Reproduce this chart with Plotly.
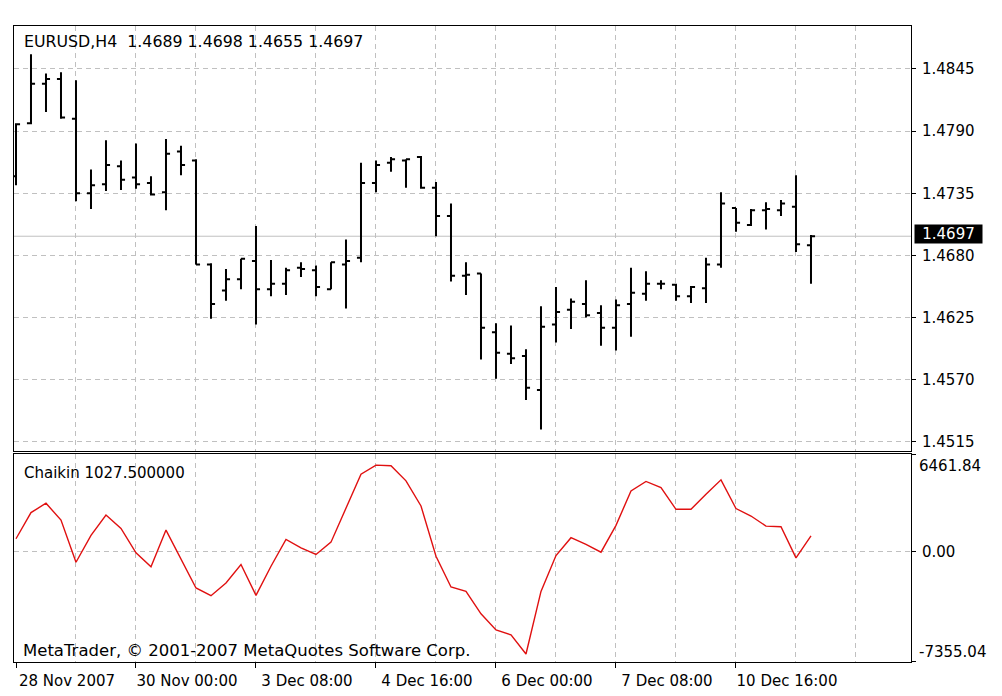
import plotly.graph_objects as go

# ---------------- data ----------------
bar_index = list(range(54))
open_ = [1.4750, 1.4797, 1.4832, 1.4836, 1.4801, 1.4735, 1.4743, 1.4759, 1.4749, 1.4744,
         1.4736, 1.4772, 1.4764, 1.4672, 1.4649, 1.4659, 1.4675, 1.4650, 1.4655, 1.4669,
         1.4667, 1.4650, 1.4672, 1.4678, 1.4744, 1.4762, 1.4764, 1.4767, 1.4740, 1.4715,
         1.4662, 1.4664, 1.4612, 1.4593, 1.4591, 1.4561, 1.4619, 1.4632, 1.4637, 1.4629,
         1.4616, 1.4637, 1.4646, 1.4655, 1.4654, 1.4644, 1.4651, 1.4672, 1.4722, 1.4707,
         1.4720, 1.4720, 1.4723, 1.4689]
high = [1.4797, 1.4858, 1.4841, 1.4842, 1.4835, 1.4756, 1.4782, 1.4764, 1.4779, 1.4750,
        1.4783, 1.4777, 1.4765, 1.4673, 1.4668, 1.4677, 1.4706, 1.4676, 1.4669, 1.4674,
        1.4671, 1.4674, 1.4694, 1.4762, 1.4764, 1.4767, 1.4765, 1.4768, 1.4745, 1.4726,
        1.4674, 1.4664, 1.4620, 1.4618, 1.4597, 1.4635, 1.4652, 1.4642, 1.4658, 1.4636,
        1.4641, 1.4669, 1.4666, 1.4658, 1.4655, 1.4653, 1.4678, 1.4736, 1.4722, 1.4721,
        1.4727, 1.4729, 1.4751, 1.4698]
low = [1.4742, 1.4796, 1.4807, 1.4801, 1.4728, 1.4721, 1.4737, 1.4738, 1.4739, 1.4733,
       1.4720, 1.4751, 1.4672, 1.4624, 1.4640, 1.4650, 1.4619, 1.4644, 1.4645, 1.4661,
       1.4644, 1.4650, 1.4633, 1.4674, 1.4736, 1.4754, 1.4740, 1.4739, 1.4697, 1.4657,
       1.4645, 1.4588, 1.4571, 1.4584, 1.4552, 1.4526, 1.4603, 1.4615, 1.4625, 1.4600,
       1.4596, 1.4608, 1.4640, 1.4650, 1.4640, 1.4638, 1.4638, 1.4669, 1.4701, 1.4706,
       1.4703, 1.4715, 1.4683, 1.4655]
close = [1.4796, 1.4832, 1.4836, 1.4802, 1.4735, 1.4742, 1.4760, 1.4747, 1.4743, 1.4734,
         1.4770, 1.4760, 1.4672, 1.4637, 1.4659, 1.4677, 1.4650, 1.4655, 1.4667, 1.4668,
         1.4652, 1.4674, 1.4675, 1.4744, 1.4760, 1.4765, 1.4765, 1.4740, 1.4715, 1.4662,
         1.4663, 1.4616, 1.4594, 1.4589, 1.4563, 1.4617, 1.4630, 1.4639, 1.4627, 1.4616,
         1.4636, 1.4647, 1.4655, 1.4655, 1.4644, 1.4652, 1.4672, 1.4726, 1.4709, 1.4720,
         1.4721, 1.4726, 1.4690, 1.4697]
chaikin = [834, 2570, 3191, 2076, -728, 1055, 2410, 1522, -100, -1035,
           1408, -547, -2436, -2950, -2103, -881, -2930, -995, 788, 234,
           -214, 607, 2904, 5126, 5727, 5680, 4679, 3010, -327, -2370,
           -2663, -4152, -5220, -5554, -6822, -2663, -280, 901, 454, -60,
           1722, 4012, 4639, 4239, 2790, 2790, 3791, 4746, 2837, 2343,
           1675, 1635, -434, 1027.5]

price_ticks = [1.4515, 1.4570, 1.4625, 1.4680, 1.4735, 1.4790, 1.4845]
date_label_bars = [0, 8, 16, 24, 32, 40, 48]
date_labels = ["28 Nov 2007", "30 Nov 00:00", "3 Dec 08:00", "4 Dec 16:00",
               "6 Dec 00:00", "7 Dec 08:00", "10 Dec 16:00"]
grid_bars = [4, 8, 12, 16, 20, 24, 28, 32, 36, 40, 44, 48, 52, 56]
chaikin_min, chaikin_max = -7355.04, 6461.84

symbol = "EURUSD,H4"
indicator_name = "Chaikin"
copyright_text = "MetaTrader, \u00a9 2001-2007 MetaQuotes Software Corp."

# ---------------- styling ----------------
FONT = "DejaVu Sans"
FS = 15
GRID = "#c0c0c0"
DASH = "5px,4px"
X_RANGE = [-0.133, 59.667]

fig = go.Figure()

fig.add_trace(go.Ohlc(
    x=bar_index, open=open_, high=high, low=low, close=close,
    increasing=dict(line=dict(color="black", width=2)),
    decreasing=dict(line=dict(color="black", width=2)),
    tickwidth=0.27, xaxis="x", yaxis="y", hoverinfo="skip", showlegend=False,
))

fig.add_trace(go.Scatter(
    x=bar_index, y=chaikin, mode="lines",
    line=dict(color="#e01010", width=1.4),
    xaxis="x2", yaxis="y2", hoverinfo="skip", showlegend=False,
))

axis_common = dict(showline=True, mirror=True, linecolor="black", linewidth=1,
                   zeroline=False, automargin=False,
                   tickfont=dict(family=FONT, size=FS, color="black"))

main_bottom = 0.3318
lower_top = 0.3270

# page body has an 8px margin, so the figure is sized to fit the window
fig.update_layout(
    width=994, height=688,
    margin=dict(l=6, r=91, t=18, b=34),
    paper_bgcolor="white", plot_bgcolor="white",
    font=dict(family=FONT, size=FS, color="black"),
    showlegend=False,
    xaxis=dict(domain=[0, 1], anchor="y", range=X_RANGE, tickvals=grid_bars,
               showticklabels=False, ticks="", showgrid=True, gridcolor=GRID,
               griddash=DASH, gridwidth=1, rangeslider=dict(visible=False),
               **axis_common),
    yaxis=dict(domain=[main_bottom, 1], anchor="x", side="right",
               range=[1.45070, 1.48830], tickvals=price_ticks, tickformat=".4f",
               ticks="outside", ticklen=4, tickcolor="black", ticklabelstandoff=3,
               showgrid=True, gridcolor=GRID, griddash=DASH, gridwidth=1,
               **axis_common),
    xaxis2=dict(domain=[0, 1], anchor="y2", range=X_RANGE,
                tickvals=date_label_bars, ticktext=date_labels,
                ticks="outside", ticklen=5, tickcolor="black", showgrid=False,
                ticklabelshift=51,
                minor=dict(tickvals=grid_bars, showgrid=True, gridcolor=GRID,
                           griddash=DASH, gridwidth=1, ticks=""),
                **axis_common),
    yaxis2=dict(domain=[0, lower_top], anchor="x2", side="right",
                range=[chaikin_min, chaikin_max],
                tickvals=[chaikin_min, 0, chaikin_max], ticktext=["", "0.00", ""],
                ticks="outside", ticklen=4, tickcolor="black", ticklabelstandoff=3,
                showgrid=True, gridcolor=GRID, griddash=DASH, gridwidth=1,
                **axis_common),
)

# current price line
fig.add_shape(type="line", xref="x domain", yref="y", x0=0, x1=1,
              y0=close[-1], y1=close[-1], line=dict(color="#c0c0c0", width=1),
              layer="below")

ann_font = dict(family=FONT, size=FS, color="black")
header = f"{symbol}  {open_[-1]:.4f} {high[-1]:.4f} {low[-1]:.4f} {close[-1]:.4f}"
fig.add_annotation(text=header, xref="paper", yref="paper", x=0, y=1,
                   xanchor="left", yanchor="middle", xshift=8, yshift=-15,
                   showarrow=False, font=dict(family=FONT, size=15.8, color="black"))
fig.add_annotation(text=f"{indicator_name} {chaikin[-1]:.6f}", xref="paper", yref="paper",
                   x=0, y=lower_top, xanchor="left", yanchor="middle", xshift=8, yshift=-19,
                   showarrow=False, font=ann_font)
fig.add_annotation(text=copyright_text, xref="paper", yref="paper", x=0, y=0,
                   xanchor="left", yanchor="middle", xshift=7, yshift=12,
                   showarrow=False, font=dict(family=FONT, size=16.5, color="black"))
# price box
fig.add_annotation(text=f"{close[-1]:.4f}", xref="paper", yref="y", x=1, y=close[-1],
                   xanchor="left", yanchor="middle", xshift=3, yshift=2,
                   showarrow=False, bgcolor="black", borderpad=0, width=67, height=18,
                   align="center",
                   font=dict(family=FONT, size=FS, color="white"))
# indicator scale labels
fig.add_annotation(text=f"{chaikin_max:.2f}", xref="paper", yref="y2", x=1, y=chaikin_max,
                   xanchor="left", yanchor="middle", xshift=6, yshift=-12,
                   showarrow=False, font=ann_font)
fig.add_annotation(text=f"{chaikin_min:.2f}", xref="paper", yref="y2", x=1, y=chaikin_min,
                   xanchor="left", yanchor="middle", xshift=6, yshift=10,
                   showarrow=False, font=ann_font)

fig.write_html("out.html")
